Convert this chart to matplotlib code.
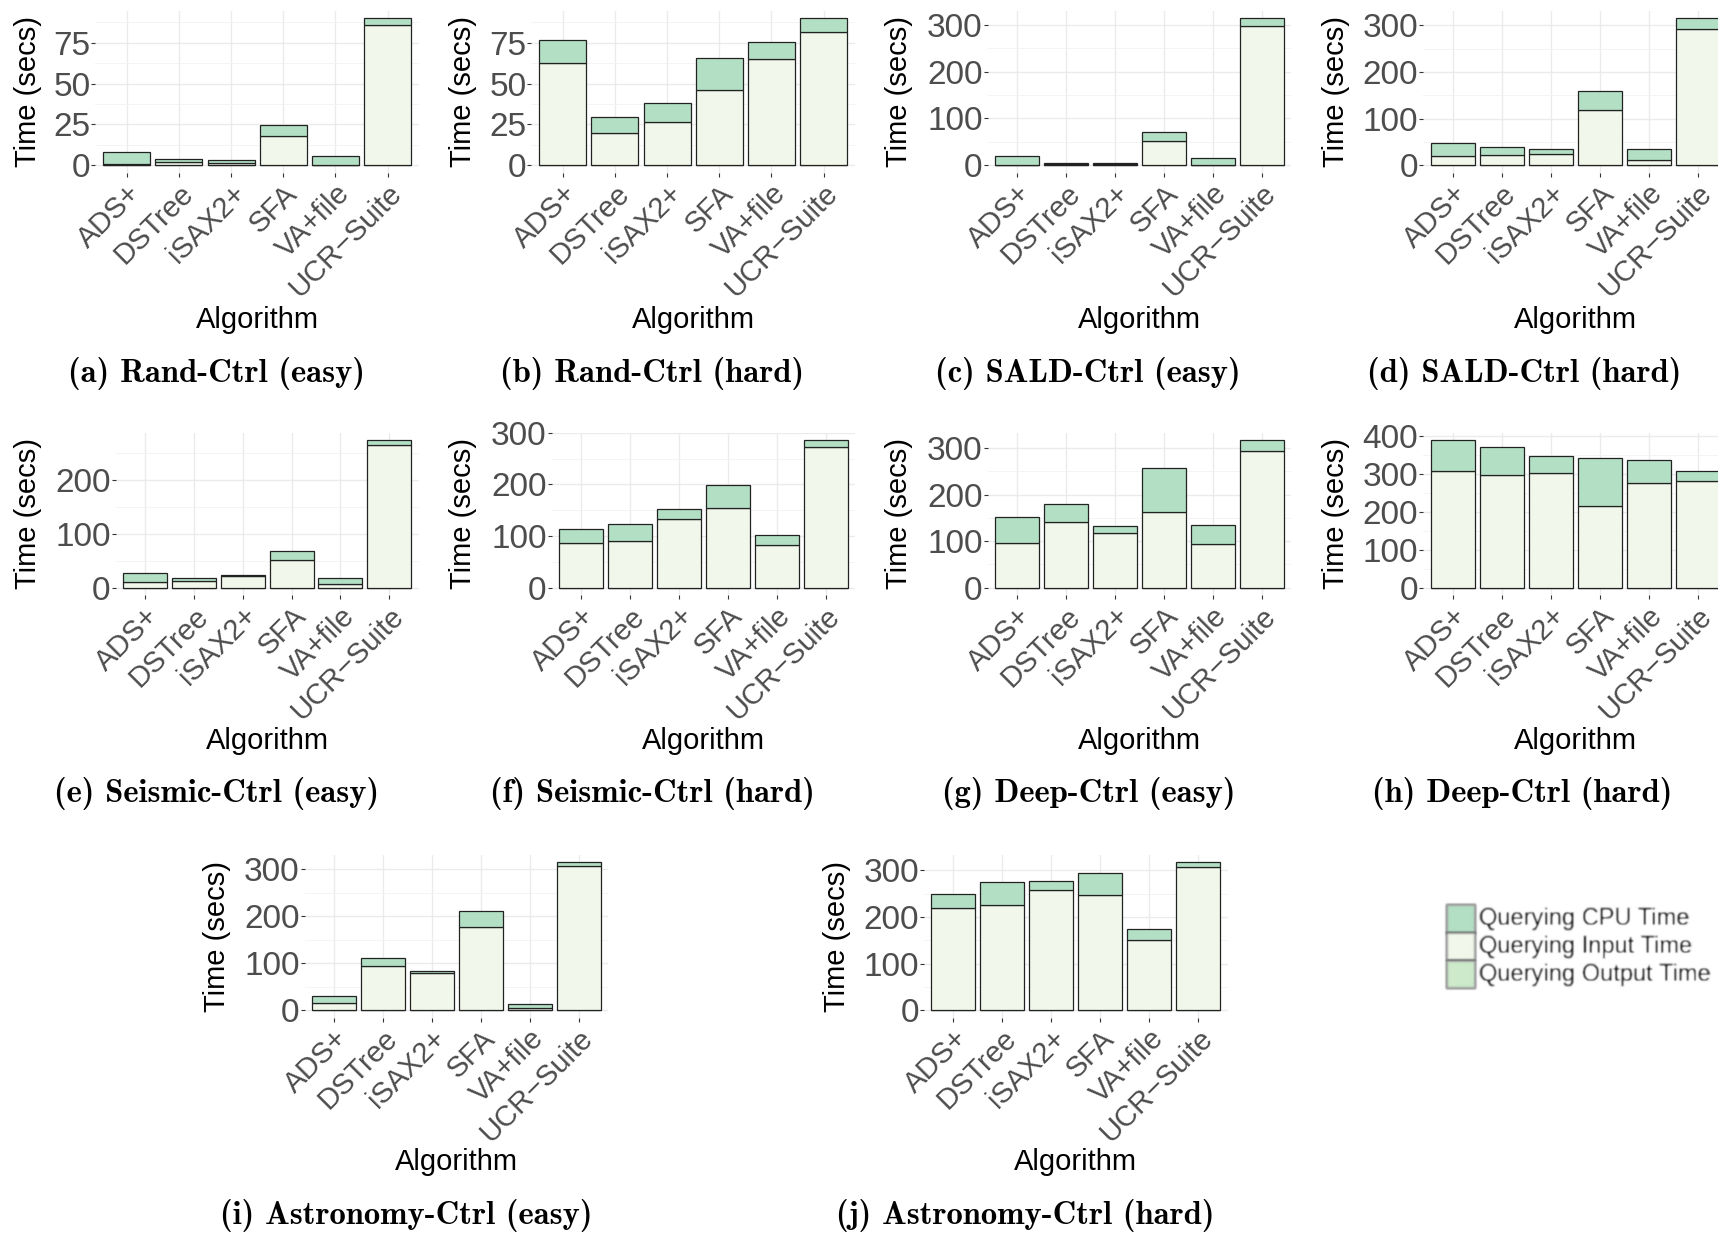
import os
import numpy as np
import matplotlib
matplotlib.use("Agg")
import matplotlib.pyplot as plt
from matplotlib.font_manager import FontProperties
from matplotlib.patches import Rectangle
from matplotlib.ticker import MultipleLocator

# ---------------- data (seconds) ----------------
algorithms = ["ADS+", "DSTree", "iSAX2+", "SFA", "VA+file", "UCR\u2212Suite"]

rand_easy_input = [0.4, 2.0, 1.4, 17.9, 0.2, 85.8]
rand_easy_cpu = [7.8, 1.7, 1.5, 7.0, 5.3, 4.5]

rand_hard_input = [62.5, 19.4, 26.3, 46.2, 65.2, 81.7]
rand_hard_cpu = [14.3, 10.3, 11.8, 19.6, 10.4, 8.6]

sald_easy_input = [0.5, 2.0, 1.5, 51.2, 0.5, 298.0]
sald_easy_cpu = [18.7, 3.0, 2.1, 19.8, 15.1, 17.0]

sald_hard_input = [19.3, 22.2, 22.9, 117.4, 10.0, 293.5]
sald_hard_cpu = [28.7, 16.5, 12.1, 42.9, 23.6, 22.9]

seismic_easy_input = [11.2, 12.4, 21.1, 51.0, 7.5, 264.6]
seismic_easy_cpu = [16.1, 6.2, 1.9, 18.0, 11.1, 9.9]

seismic_hard_input = [86.5, 89.7, 132.3, 154.8, 81.9, 271.6]
seismic_hard_cpu = [26.4, 33.5, 19.3, 43.2, 19.4, 14.2]

deep_easy_input = [95.5, 142.1, 117.0, 163.0, 93.3, 295.0]
deep_easy_cpu = [57.4, 37.4, 16.5, 95.4, 41.7, 22.3]

deep_hard_input = [309.3, 296.9, 302.2, 215.0, 276.7, 282.8]
deep_hard_cpu = [80.1, 74.9, 44.1, 128.6, 59.9, 26.5]

astro_easy_input = [15.6, 93.1, 78.2, 176.3, 3.6, 306.3]
astro_easy_cpu = [15.0, 17.8, 5.7, 34.7, 8.5, 8.6]

astro_hard_input = [219.0, 226.2, 258.4, 246.2, 151.0, 306.4]
astro_hard_cpu = [30.1, 48.0, 19.4, 48.8, 22.2, 10.7]

output_time = [0, 0, 0, 0, 0, 0]

captions = [
    "(a) Rand-Ctrl (easy)", "(b) Rand-Ctrl (hard)",
    "(c) SALD-Ctrl (easy)", "(d) SALD-Ctrl (hard)",
    "(e) Seismic-Ctrl (easy)", "(f) Seismic-Ctrl (hard)",
    "(g) Deep-Ctrl (easy)", "(h) Deep-Ctrl (hard)",
    "(i) Astronomy-Ctrl (easy)", "(j) Astronomy-Ctrl (hard)",
]
legend_labels = ["Querying CPU Time", "Querying Input Time", "Querying Output Time"]

# ---------------- style ----------------
W, H = 1718, 1234
C_CPU = "#b3dfc4"
C_INPUT = "#f1f8eb"
C_OUTPUT = "#cdebcb"
EDGE = "#222222"
GRID = "#ebebeb"
TICK_TXT = "#4d4d4d"
SANS = "Liberation Sans"

cm_bold = FontProperties(
    fname=os.path.join(matplotlib.get_data_path(), "fonts", "ttf", "cmb10.ttf"),
    size=23.5)

fig = plt.figure(figsize=(W / 100, H / 100), dpi=100)
fig.patch.set_facecolor("white")


def px_axes(left, right, top, bottom):
    return fig.add_axes([left / W, 1 - bottom / H, (right - left) / W, (bottom - top) / H])


# panel boxes in pixels: left, right, top, bottom, y major step,
# y-label x, caption x, caption y, x-title y
panels = [
    (rand_easy_input, rand_easy_cpu, (95.4, 419.0, 10.5, 172.5), 25, 27.5, 216.7, 373.5, 320.5),
    (rand_hard_input, rand_hard_cpu, (531.4, 855.0, 10.5, 172.5), 25, 463.3, 652.0, 373.5, 320.5),
    (sald_easy_input, sald_easy_cpu, (987.7, 1291.0, 10.5, 172.5), 100, 898.8, 1088.3, 373.5, 320.5),
    (sald_hard_input, sald_hard_cpu, (1423.3, 1727.0, 10.5, 172.5), 100, 1335.8, 1524.2, 373.5, 320.5),
    (seismic_easy_input, seismic_easy_cpu, (115.7, 418.6, 432.8, 595.0), 100, 27.5, 216.7, 794.0, 740.8),
    (seismic_hard_input, seismic_hard_cpu, (551.6, 855.1, 432.8, 595.0), 100, 463.3, 652.5, 794.0, 740.8),
    (deep_easy_input, deep_easy_cpu, (987.7, 1291.0, 432.8, 595.0), 100, 898.8, 1088.3, 794.0, 740.8),
    (deep_hard_input, deep_hard_cpu, (1423.3, 1727.0, 432.8, 595.0), 100, 1335.8, 1522.0, 794.0, 740.8),
    (astro_easy_input, astro_easy_cpu, (304.6, 608.1, 855.0, 1017.5), 100, 216.7, 405.8, 1216.0, 1162.0),
    (astro_hard_input, astro_hard_cpu, (923.9, 1227.7, 855.0, 1017.5), 100, 836.7, 1025.0, 1216.0, 1162.0),
]

x = np.arange(1, len(algorithms) + 1)

for (inp, cpu, box, step, ylab_x, cap_x, cap_y, xt_y), caption in zip(panels, captions):
    left, right, top, bottom = box
    ax = px_axes(left, right, top, bottom)
    inp = np.asarray(inp, float)
    cpu = np.asarray(cpu, float)
    out = np.asarray(output_time, float)
    total = out + inp + cpu
    m = total.max()

    kw = dict(width=0.9, edgecolor=EDGE, linewidth=0.9, zorder=3)
    ax.bar(x, out, color=C_OUTPUT, **kw)
    ax.bar(x, inp, bottom=out, color=C_INPUT, **kw)
    ax.bar(x, cpu, bottom=out + inp, color=C_CPU, **kw)

    ax.set_xlim(0.4, 6.6)
    ax.set_ylim(-0.05 * m, 1.05 * m)
    ax.yaxis.set_major_locator(MultipleLocator(step))
    ax.yaxis.set_minor_locator(MultipleLocator(step / 2))
    ax.set_xticks(x)
    ax.set_xticklabels(algorithms, rotation=45, ha="right", va="top",
                       rotation_mode="anchor", fontsize=21, color=TICK_TXT,
                       family=SANS)
    for lab in ax.get_yticklabels():
        lab.set_family(SANS)
    ax.tick_params(axis="y", which="major", length=2.6, width=0.8, color="#333333",
                   pad=1.0, labelsize=24, labelcolor=TICK_TXT)
    ax.tick_params(axis="y", which="minor", length=0)
    ax.tick_params(axis="x", which="major", length=2.9, width=0.8, color="#333333",
                   pad=2.0)
    ax.grid(True, which="major", color=GRID, linewidth=1.0, zorder=0)
    ax.grid(True, which="minor", axis="y", color="#f2f2f2", linewidth=0.6, zorder=0)
    ax.set_axisbelow(True)
    for s in ax.spines.values():
        s.set_visible(False)
    ax.set_facecolor("white")

    # axis titles
    fig.text(ylab_x / W, 1 - ((top + bottom) / 2) / H, "Time (secs)", rotation=90,
             ha="center", va="center", fontsize=21, family=SANS, color="black")
    fig.text(((left + right) / 2) / W, 1 - xt_y / H, "Algorithm",
             ha="center", va="center", fontsize=21, family=SANS, color="black")
    # sub-figure caption
    fig.text(cap_x / W, 1 - cap_y / H, caption, ha="center", va="center",
             fontproperties=cm_bold, color="black")


# ---------------- legend (soft-focus) ----------------
def soft_blur(img, dpi, sigma=0.95):
    pad = 4
    src = np.pad(img, [(pad, pad), (pad, pad), (0, 0)], "constant")
    k = np.arange(-pad, pad + 1)
    kern = np.exp(-0.5 * (k / sigma) ** 2)
    kern /= kern.sum()
    tmp = np.zeros_like(src)
    for off, wgt in zip(k, kern):
        tmp += wgt * np.roll(src, off, axis=0)
    res = np.zeros_like(src)
    for off, wgt in zip(k, kern):
        res += wgt * np.roll(tmp, off, axis=1)
    return res, -pad, -pad


key_left, key_w = 1447.0, 28.0
key_tops = [905.0, 932.7, 960.7]
key_h = 27.7
key_colors = [C_CPU, C_INPUT, C_OUTPUT]
for ktop, kcol, lab in zip(key_tops, key_colors, legend_labels):
    r = Rectangle((key_left / W, 1 - (ktop + key_h) / H), key_w / W, key_h / H,
                  transform=fig.transFigure, facecolor=kcol, edgecolor="#9a9a9a",
                  linewidth=1.2)
    r.set_agg_filter(soft_blur)
    fig.patches.append(r)
    t = fig.text(1479 / W, 1 - (ktop + key_h / 2) / H, lab, ha="left", va="center",
                 fontsize=17, family=SANS, color="black")
    t.set_agg_filter(soft_blur)

fig.savefig("out.png", dpi=100, facecolor="white")
